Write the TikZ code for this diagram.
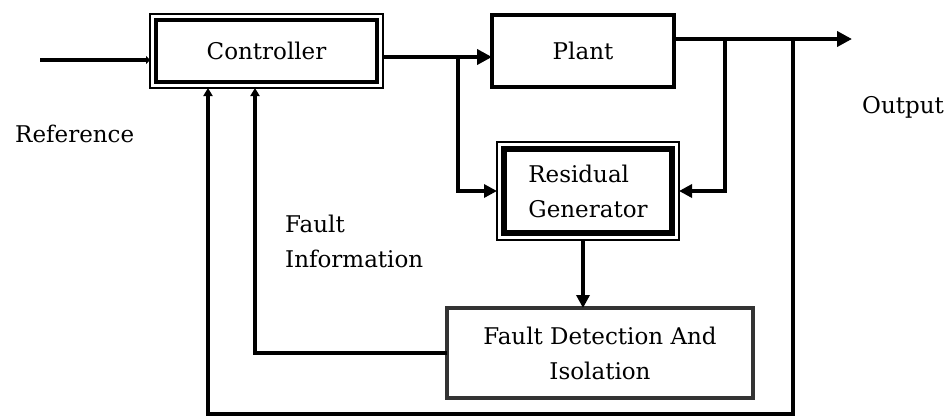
\documentclass[tikz,border=0pt]{standalone}
\usepackage{fontspec}
\setmainfont{DejaVu Serif}
\usetikzlibrary{arrows.meta}
\begin{document}
\begin{tikzpicture}[x=1pt,y=-1pt,
  txt/.style={font=\fontsize{23}{35}\selectfont},
  lbl/.style={txt, inner sep=0pt},
  blk/.style={txt, rectangle, draw, inner sep=0pt, outer sep=0pt, align=center},
  wire/.style={line width=4.5pt, line cap=butt},
  arr/.style={wire, -{Triangle[length=15pt,width=15pt]}},
  marr/.style={wire, -{Triangle[length=13pt,width=13pt]}},
  sarr/.style={wire, -{Triangle[length=8pt,width=9pt]}},
  tarr/.style={wire, -{Triangle[length=4pt,width=8pt]}}
]
\fill[white] (0,0) rectangle (946,416);
\useasboundingbox (0,0) rectangle (946,416);

% blocks
\node[blk, line width=1.5pt, minimum width=233pt, minimum height=74pt] (ctrl) at (266.5,51) {Controller};
\draw[line width=4pt] ([shift={(6,6)}]ctrl.north west) rectangle ([shift={(-6,-6)}]ctrl.south east);

\node[blk, line width=4.5pt, minimum width=182pt, minimum height=72pt] (plant) at (583,51) {Plant};

\node[blk, line width=1.5pt, minimum width=182pt, minimum height=98pt, align=left] (resid) at (588,191) {Residual\\Generator};
\draw[line width=6pt] ([shift={(7,7)}]resid.north west) rectangle ([shift={(-7,-7)}]resid.south east);

\node[blk, draw=black!80, line width=3.5pt, minimum width=306pt, minimum height=90pt] (fd) at (600,353) {Fault Detection And\\Isolation};

% labels
\node[lbl, anchor=base west] (reflbl) at (15,142) {Reference};
\node[lbl, anchor=base west] (outlbl) at (862,113) {Output};
\node[lbl, anchor=base west] (fault1) at (285,232) {Fault};
\node[lbl, anchor=base west] (fault2) at (285,267) {Information};

% junction points
\coordinate (refin) at (40,60);
\coordinate (j1) at (458,57);
\coordinate (j2) at (725,39);
\coordinate (j3) at (793,39);
\coordinate (out) at (852,39);
\coordinate (bl) at (208,414);
\coordinate (fi) at (255,353);
\coordinate (rs) at (583,0);

% connectors
\draw[tarr] (refin) -- (refin -| ctrl.west);
\draw[wire] (ctrl.east |- j1) -- (j1);
\draw[arr] (j1) -- (j1 -| plant.west);
\draw[marr] (j1) |- (resid.west);
\draw[arr] (plant.east |- out) -- (out);
\draw[marr] (j2) |- (resid.east);
\draw[marr] (rs |- resid.south) -- (rs |- fd.north);
\draw[sarr] (fd.west) -- (fi) -- (fi |- ctrl.south);
\draw[sarr] (j3) |- (bl) -- (bl |- ctrl.south);
\end{tikzpicture}
\end{document}
